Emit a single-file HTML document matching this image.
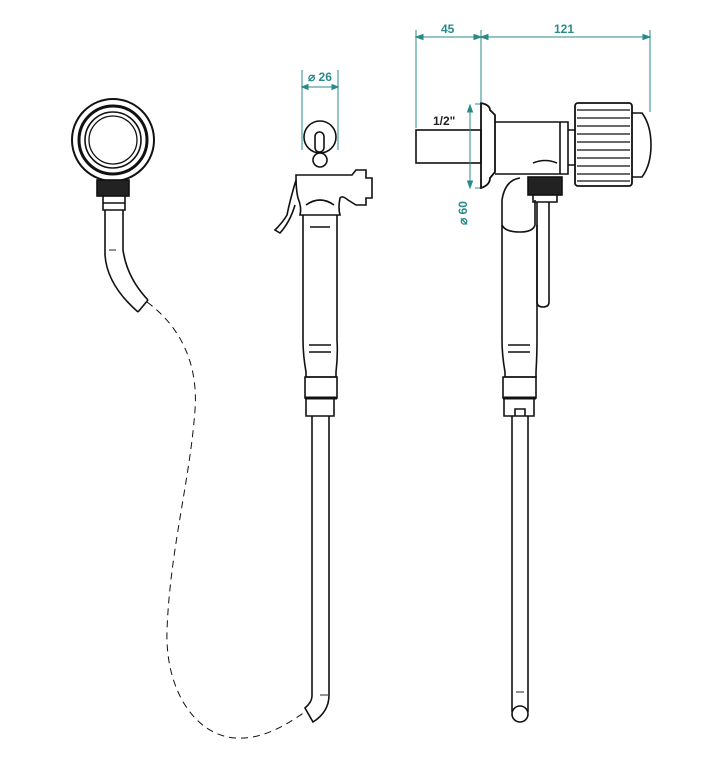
<!DOCTYPE html>
<html><head><style>html,body{margin:0;padding:0;background:#fff}svg{display:block}</style></head>
<body>
<svg width="705" height="770" viewBox="0 0 705 770" xmlns="http://www.w3.org/2000/svg" font-family="Liberation Sans, sans-serif">
<g fill="none" stroke="#111" stroke-width="1.6">
<!-- LEFT fitting -->
<circle cx="113" cy="140" r="41" stroke-width="2"/>
<circle cx="113" cy="140" r="34" stroke-width="3"/>
<circle cx="113" cy="140" r="28"/>
<circle cx="113" cy="140" r="24" stroke-width="1.3"/>
<rect x="97" y="180" width="32" height="16" fill="#222"/>
<path d="M103 196 V210 H125 V196 M103 203 H125"/>
<path d="M105 210 V255 Q107 285 138 312"/>
<path d="M123 210 V250 Q127 278 148 300"/>
<path d="M138 312 L148 300"/>
<path d="M109 250 h7" stroke="#777"/>
<path d="M147 302 C185 330 198 370 195 410 C190 480 170 550 167 630 C165 690 195 735 235 738 C265 740 290 722 305 712" stroke-dasharray="7 5" stroke-width="1"/>
<!-- MIDDLE -->
<circle cx="320" cy="137" r="16"/>
<rect x="315" y="132" width="9" height="20" rx="4.5"/>
<circle cx="320" cy="160" r="7"/>
<path d="M296 175 H352 L356 170 H366 V178 H372 V198 H366 V205 H356 L348 200 Q342 195 340 198 Q338 208 340 215 H300 Q302 208 298 198 Q296 190 296 175 Z"/>
<path d="M296 180 Q290 200 287 215 Q283 222 275 230 L280 233 Q290 222 295 205"/>
<path d="M306 205 Q320 195 334 205"/>
<path d="M303 215 V340 Q303 355 306 372 V377 H336 V372 Q338 355 337 340 V215"/>
<path d="M309 345 h22 M309 352 h22 M310 227 h20"/>
<path d="M305 377 H337 V398 H305 Z" />
<path d="M305 398 H337" stroke-width="3"/>
<path d="M306 398 V416 H334 V398"/>
<path d="M312 416 V696 Q312 702 305 708 L313 722 Q329 712 329 695 V416"/>
<path d="M320 695 h8" stroke="#777"/>
<!-- RIGHT -->
<rect x="416" y="130" width="65" height="33"/>
<path d="M481 103 Q490 105 490 110 L495 115 V172 L490 178 Q490 185 481 188 Z" stroke-width="1.8"/>
<path d="M495 122 H568 V174 H495"/>
<path d="M560 122 V174"/>
<rect x="575" y="103" width="57" height="83" rx="3" stroke-width="1.8"/>
<g stroke-width="1.2"><path d="M577 110 h53 M577 118 h53 M577 126 h53 M577 134 h53 M577 142 h53 M577 150 h53 M577 158 h53 M577 166 h53 M577 174 h53 M577 181 h53"/></g>
<path d="M632 113 H642 Q651 125 651 145 Q651 165 642 177 H632"/>
<path d="M568 130 H575 M568 165 H575"/>
<path d="M533 163 Q545 158 557 163"/>
<rect x="528" y="177" width="34" height="18" fill="#222"/>
<path d="M533 195 V202 H557 V195 M537 202 V302 Q537 307 543 307 Q549 307 549 302 V202"/>
<path d="M520 178 Q505 180 502 200 V225 Q505 232 520 232 Q533 232 535 225 V200"/>
<path d="M502 225 V340 Q502 355 505 372 V377 H536 V372 Q537 355 537 340 V225"/>
<path d="M508 345 h22 M508 352 h22"/>
<path d="M503 377 H536 V398 H503 Z"/>
<path d="M503 398 H536" stroke-width="3"/>
<path d="M504 398 V416 H534 V398 M515 416 V409 H525 V416"/>
<path d="M512 416 V712 M528 416 V712"/>
<circle cx="520" cy="714" r="8"/>
<path d="M516 692 h8" stroke="#777"/>
</g>
<!-- dimensions -->
<g stroke="#2a8a8a" stroke-width="1" fill="#2a8a8a">
<path d="M302 70 V150 M338 70 V150 M302 87 H338" fill="none"/>
<path d="M302 87 l6 -2.5 v5 Z M338 87 l-6 -2.5 v5 Z"/>
<path d="M416 30 V128 M481 30 V103 M650 30 V112 M416 37 H650" fill="none"/>
<path d="M416 37 l7 -2.5 v5 Z M481 37 l-7 -2.5 v5 Z M481 37 l7 -2.5 v5 Z M650 37 l-7 -2.5 v5 Z"/>
<path d="M470 105 V188" fill="none"/>
<path d="M470 105 l-2.5 7 h5 Z M470 188 l-2.5 -7 h5 Z"/>
<path d="M475 104 H480 M475 188 H480" fill="none"/>
</g>
<g fill="#2a8a8a" font-weight="bold" font-size="12">
<text x="308" y="81">⌀ 26</text>
<text x="441" y="33">45</text>
<text x="554" y="33">121</text>
<text transform="translate(467,225) rotate(-90)">⌀ 60</text>
</g>
<text x="433" y="125" font-size="12" font-weight="bold" fill="#222" font-family="Liberation Sans, sans-serif">1/2"</text>
</svg>
</body></html>
